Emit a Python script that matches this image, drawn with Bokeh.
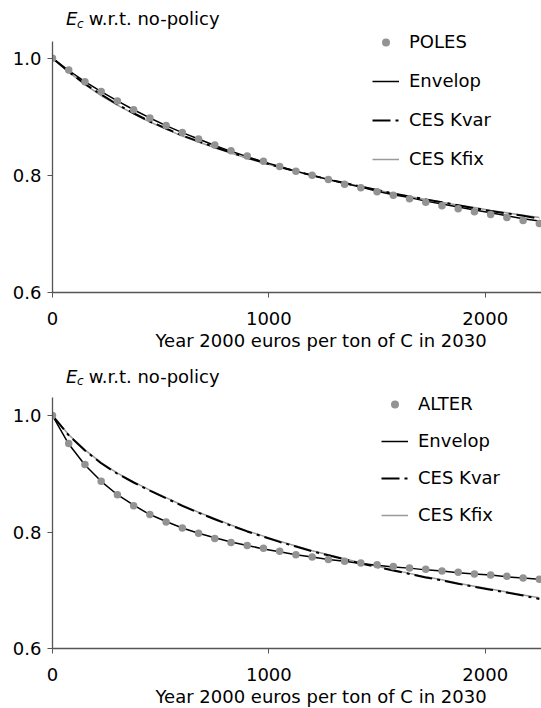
from bokeh.plotting import figure
from bokeh.models import Range1d, Legend, LegendItem, Label, FixedTicker, PrintfTickFormatter, Title
from bokeh.layouts import column
from bokeh.embed import file_html
from bokeh.resources import INLINE

# ---- data ----
tax = [0, 75, 150, 225, 300, 375, 450, 525, 600, 675, 750, 825, 900, 975, 1050, 1125,
       1200, 1275, 1350, 1425, 1500, 1575, 1650, 1725, 1800, 1875, 1950, 2025, 2100, 2175, 2250]

poles = [1.000, 0.980, 0.960, 0.943, 0.927, 0.912, 0.898, 0.885, 0.873, 0.862, 0.852, 0.842,
         0.833, 0.824, 0.815, 0.807, 0.800, 0.793, 0.785, 0.779, 0.772, 0.766, 0.760, 0.754,
         0.748, 0.743, 0.738, 0.733, 0.728, 0.723, 0.718]
poles_envelop = [1.000, 0.979, 0.960, 0.943, 0.927, 0.912, 0.898, 0.885, 0.873, 0.862, 0.851, 0.841,
                 0.832, 0.823, 0.815, 0.807, 0.800, 0.793, 0.786, 0.780, 0.773, 0.767, 0.762, 0.756,
                 0.751, 0.746, 0.741, 0.736, 0.731, 0.726, 0.722]
poles_kvar = [1.000, 0.977, 0.956, 0.938, 0.921, 0.906, 0.892, 0.880, 0.868, 0.858, 0.848, 0.839,
              0.830, 0.822, 0.814, 0.807, 0.800, 0.793, 0.787, 0.781, 0.775, 0.769, 0.764, 0.759,
              0.754, 0.749, 0.744, 0.739, 0.735, 0.731, 0.726]
poles_kfix = [1.000, 0.976, 0.955, 0.936, 0.920, 0.905, 0.891, 0.879, 0.867, 0.857, 0.847, 0.838,
              0.829, 0.821, 0.814, 0.807, 0.800, 0.793, 0.787, 0.781, 0.775, 0.769, 0.764, 0.759,
              0.754, 0.749, 0.745, 0.740, 0.736, 0.732, 0.728]

alter = [1.000, 0.952, 0.916, 0.887, 0.864, 0.845, 0.830, 0.817, 0.807, 0.798, 0.789, 0.782,
         0.777, 0.772, 0.767, 0.761, 0.757, 0.753, 0.750, 0.747, 0.744, 0.741, 0.738, 0.736,
         0.733, 0.731, 0.728, 0.726, 0.724, 0.721, 0.719]
alter_envelop = [1.000, 0.951, 0.915, 0.887, 0.864, 0.846, 0.830, 0.818, 0.807, 0.798, 0.790, 0.783,
                 0.777, 0.771, 0.766, 0.761, 0.757, 0.753, 0.750, 0.746, 0.743, 0.740, 0.738, 0.735,
                 0.733, 0.730, 0.728, 0.726, 0.723, 0.721, 0.719]
alter_kvar = [1.000, 0.966, 0.940, 0.918, 0.900, 0.885, 0.871, 0.858, 0.845, 0.833, 0.822, 0.811,
              0.801, 0.792, 0.783, 0.775, 0.767, 0.760, 0.753, 0.746, 0.740, 0.734, 0.728, 0.722,
              0.717, 0.711, 0.706, 0.701, 0.696, 0.691, 0.685]
alter_kfix = [1.000, 0.967, 0.941, 0.919, 0.901, 0.886, 0.872, 0.859, 0.846, 0.834, 0.823, 0.812,
              0.802, 0.793, 0.784, 0.776, 0.768, 0.761, 0.754, 0.747, 0.741, 0.735, 0.729, 0.723,
              0.718, 0.712, 0.707, 0.702, 0.697, 0.692, 0.687]

x_ticks = [0, 1000, 2000]
y_ticks = [0.6, 0.8, 1.0]
x_title = "Year 2000 euros per ton of C in 2030"
series_labels = ["Envelop", "CES Kvar", "CES Kfix"]

FONT = "DejaVu Sans"
FS = "18px"
AXIS_COLOR = "#555555"
DOT_COLOR = "#939393"
GREY_LINE = "#9a9a9a"
W = 541


def title_strip(height, mid):
    t = figure(width=W, height=height, output_backend="svg", toolbar_location=None,
               x_range=Range1d(0, W), y_range=Range1d(0, height), min_border=0,
               x_axis_location=None, y_axis_location=None, title=None)
    t.outline_line_color = None
    t.grid.visible = False
    common = dict(x_units="data", y_units="data", text_font=FONT, text_color="black",
                  text_baseline="middle", text_align="left")
    t.add_layout(Label(x=15, y=mid, text="E", text_font_style="italic",
                       text_font_size=FS, **common))
    t.add_layout(Label(x=27, y=mid - 5, text="c", text_font_style="italic",
                       text_font_size="12px", **common))
    t.add_layout(Label(x=40, y=mid, text="w.r.t. no-policy",
                       text_font_size=FS, **common))
    return t


def make_panel(height, bottom, ytop, ybound, pts, env, kvar, kfix, name, leg_loc, leg_spacing):
    p = figure(width=W, height=height, output_backend="svg", toolbar_location=None,
               x_range=Range1d(0, 2260), y_range=Range1d(0.6, ytop),
               min_border_left=52, min_border_right=0, min_border_top=0,
               min_border_bottom=bottom, title=None)
    p.outline_line_color = None
    p.xgrid.visible = False
    p.ygrid.visible = False

    r_kfix = p.line(tax, kfix, line_color=GREY_LINE, line_width=1.5)
    r_kvar = p.line(tax, kvar, line_color="black", line_width=2, line_dash="18 5 3 5")
    r_env = p.line(tax, env, line_color="black", line_width=1.5)
    r_pts = p.scatter(tax, pts, size=7.5, fill_color=DOT_COLOR, line_color=None)

    xa = p.xaxis[0]
    xa.ticker = FixedTicker(ticks=x_ticks)
    xa.formatter = PrintfTickFormatter(format="%d")
    xa.major_label_text_font = FONT
    xa.major_label_text_font_size = FS
    xa.major_label_text_color = "black"
    xa.major_label_standoff = 14
    xa.major_tick_in = 0
    xa.major_tick_out = 5
    xa.minor_tick_line_color = None
    xa.axis_line_color = AXIS_COLOR
    xa.major_tick_line_color = AXIS_COLOR
    xa.axis_line_width = 1.3

    ya = p.yaxis[0]
    ya.ticker = FixedTicker(ticks=y_ticks)
    ya.formatter = PrintfTickFormatter(format="%.1f")
    ya.bounds = (0.6, ybound)
    ya.major_label_text_font = FONT
    ya.major_label_text_font_size = FS
    ya.major_label_text_color = "black"
    ya.major_label_standoff = 6
    ya.major_tick_in = 0
    ya.major_tick_out = 5
    ya.minor_tick_line_color = None
    ya.axis_line_color = AXIS_COLOR
    ya.major_tick_line_color = AXIS_COLOR
    ya.axis_line_width = 1.3

    p.add_layout(Title(text=x_title, align="left", offset=103, standoff=0,
                       text_font=FONT, text_font_size=FS, text_font_style="normal",
                       text_color="black"), "below")

    legend = Legend(items=[LegendItem(label=name, renderers=[r_pts]),
                           LegendItem(label=series_labels[0], renderers=[r_env]),
                           LegendItem(label=series_labels[1], renderers=[r_kvar]),
                           LegendItem(label=series_labels[2], renderers=[r_kfix])],
                    location=leg_loc, border_line_color=None, background_fill_alpha=0,
                    padding=0, margin=0, spacing=leg_spacing, glyph_width=27, glyph_height=20,
                    label_height=20, label_standoff=10, label_text_font=FONT,
                    label_text_font_size=FS, label_text_color="black")
    p.add_layout(legend)
    return p


t1 = title_strip(30, 12)
p1 = make_panel(324, 62, 1.0473, 1.029, poles, poles_envelop, poles_kvar, poles_kfix,
                "POLES", (320, 123), 18)
t2 = title_strip(34, 12.3)
p2 = make_panel(320, 60, 1.0464, 1.0304, alter, alter_envelop, alter_kvar, alter_kfix,
                "ALTER", (329, 123), 16)

layout = column(t1, p1, t2, p2, spacing=0)
open("out.html", "w").write(file_html(layout, INLINE))
